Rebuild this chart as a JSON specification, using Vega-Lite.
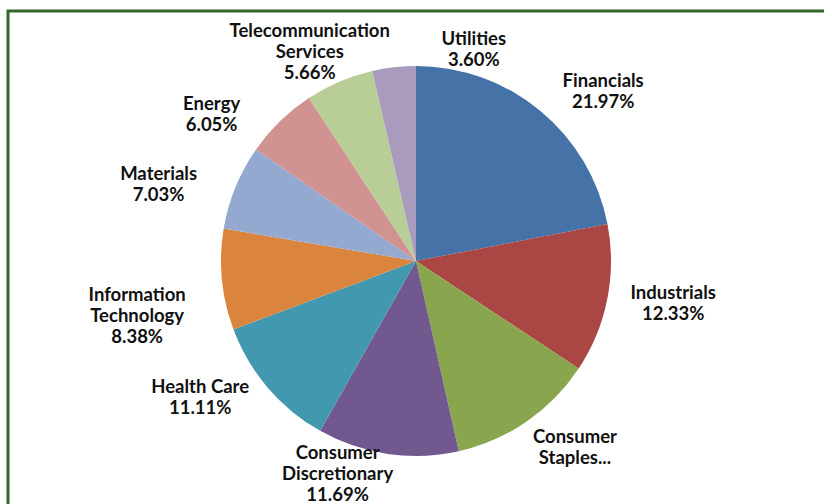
{
  "$schema": "https://vega.github.io/schema/vega-lite/v6.json",
  "width": 816,
  "height": 500,
  "autosize": {"type": "none"},
  "padding": {"left": 8, "top": 11, "right": 0, "bottom": 0},
  "background": "white",
  "config": {
    "view": {"stroke": null},
    "text": {"font": "Lato", "fontSize": 18.5, "fontWeight": "bold", "align": "center", "baseline": "middle", "lineBreak": "\n", "lineHeight": 21, "color": "#111111"}
  },
  "data": {
    "values": [
      {"sector": "Financials", "pct": 21.97, "label": "Financials\n21.97%"},
      {"sector": "Industrials", "pct": 12.33, "label": "Industrials\n12.33%"},
      {"sector": "Consumer Staples", "pct": 12.18, "label": "Consumer\nStaples..."},
      {"sector": "Consumer Discretionary", "pct": 11.69, "label": "Consumer\nDiscretionary\n11.69%"},
      {"sector": "Health Care", "pct": 11.11, "label": "Health Care\n11.11%"},
      {"sector": "Information Technology", "pct": 8.38, "label": "Information\nTechnology\n8.38%"},
      {"sector": "Materials", "pct": 7.03, "label": "Materials\n7.03%"},
      {"sector": "Energy", "pct": 6.05, "label": "Energy\n6.05%"},
      {"sector": "Telecommunication Services", "pct": 5.66, "label": "Telecommunication\nServices\n5.66%"},
      {"sector": "Utilities", "pct": 3.60, "label": "Utilities\n3.60%"}
    ]
  },
  "transform": [
    {"window": [{"op": "row_number", "as": "idx"}]},
    {"window": [{"op": "sum", "field": "pct", "as": "cum"}], "sort": [{"field": "idx"}], "frame": [null, 0]},
    {"calculate": "datum.cum - datum.pct / 2", "as": "mid"}
  ],
  "layer": [
    {
      "transform": [{"filter": "datum.idx === 1"}],
      "mark": {"type": "rect", "fill": null, "stroke": "#35652a", "strokeWidth": 3, "strokeDash": [816, 1316, 500, 1000]},
      "encoding": {}
    },
    {
      "mark": {"type": "arc", "outerRadius": 195},
      "encoding": {
        "theta": {"field": "pct", "type": "quantitative", "scale": {"domain": [0, 100]}},
        "order": {"field": "idx", "type": "quantitative"},
        "color": {
          "field": "sector", "type": "nominal", "legend": null,
          "scale": {
            "domain": ["Financials", "Industrials", "Consumer Staples", "Consumer Discretionary", "Health Care", "Information Technology", "Materials", "Energy", "Telecommunication Services", "Utilities"],
            "range": ["#4572A7", "#AA4643", "#89A54E", "#71588F", "#4198AF", "#DB843D", "#93A9CF", "#D19392", "#B9CD96", "#A99BBD"]
          }
        }
      }
    },
    {"transform": [{"filter": "datum.sector === 'Financials'"}], "mark": {"type": "text", "radius": 250, "dx": 28, "dy": 13},
     "encoding": {"theta": {"field": "mid", "type": "quantitative", "stack": null, "scale": {"domain": [0, 100]}}, "text": {"field": "label"}}},
    {"transform": [{"filter": "datum.sector === 'Industrials'"}], "mark": {"type": "text", "radius": 250, "dx": 12, "dy": -17},
     "encoding": {"theta": {"field": "mid", "type": "quantitative", "stack": null, "scale": {"domain": [0, 100]}}, "text": {"field": "label"}}},
    {"transform": [{"filter": "datum.sector === 'Consumer Staples'"}], "mark": {"type": "text", "radius": 250, "dx": 17, "dy": -30},
     "encoding": {"theta": {"field": "mid", "type": "quantitative", "stack": null, "scale": {"domain": [0, 100]}}, "text": {"field": "label"}}},
    {"transform": [{"filter": "datum.sector === 'Consumer Discretionary'"}], "mark": {"type": "text", "radius": 250, "dx": -42, "dy": -55},
     "encoding": {"theta": {"field": "mid", "type": "quantitative", "stack": null, "scale": {"domain": [0, 100]}}, "text": {"field": "label"}}},
    {"transform": [{"filter": "datum.sector === 'Health Care'"}], "mark": {"type": "text", "radius": 250, "dx": -26, "dy": -37},
     "encoding": {"theta": {"field": "mid", "type": "quantitative", "stack": null, "scale": {"domain": [0, 100]}}, "text": {"field": "label"}}},
    {"transform": [{"filter": "datum.sector === 'Information Technology'"}], "mark": {"type": "text", "radius": 250, "dx": -30, "dy": 10},
     "encoding": {"theta": {"field": "mid", "type": "quantitative", "stack": null, "scale": {"domain": [0, 100]}}, "text": {"field": "label"}}},
    {"transform": [{"filter": "datum.sector === 'Materials'"}], "mark": {"type": "text", "radius": 250, "dx": -26, "dy": 8},
     "encoding": {"theta": {"field": "mid", "type": "quantitative", "stack": null, "scale": {"domain": [0, 100]}}, "text": {"field": "label"}}},
    {"transform": [{"filter": "datum.sector === 'Energy'"}], "mark": {"type": "text", "radius": 250, "dx": -30, "dy": 22},
     "encoding": {"theta": {"field": "mid", "type": "quantitative", "stack": null, "scale": {"domain": [0, 100]}}, "text": {"field": "label"}}},
    {"transform": [{"filter": "datum.sector === 'Telecommunication Services'"}], "mark": {"type": "text", "radius": 250, "dx": -8, "dy": 0},
     "encoding": {"theta": {"field": "mid", "type": "quantitative", "stack": null, "scale": {"domain": [0, 100]}}, "text": {"field": "label"}}},
    {"transform": [{"filter": "datum.sector === 'Utilities'"}], "mark": {"type": "text", "radius": 250, "dx": 86, "dy": 26},
     "encoding": {"theta": {"field": "mid", "type": "quantitative", "stack": null, "scale": {"domain": [0, 100]}}, "text": {"field": "label"}}}
  ]
}
